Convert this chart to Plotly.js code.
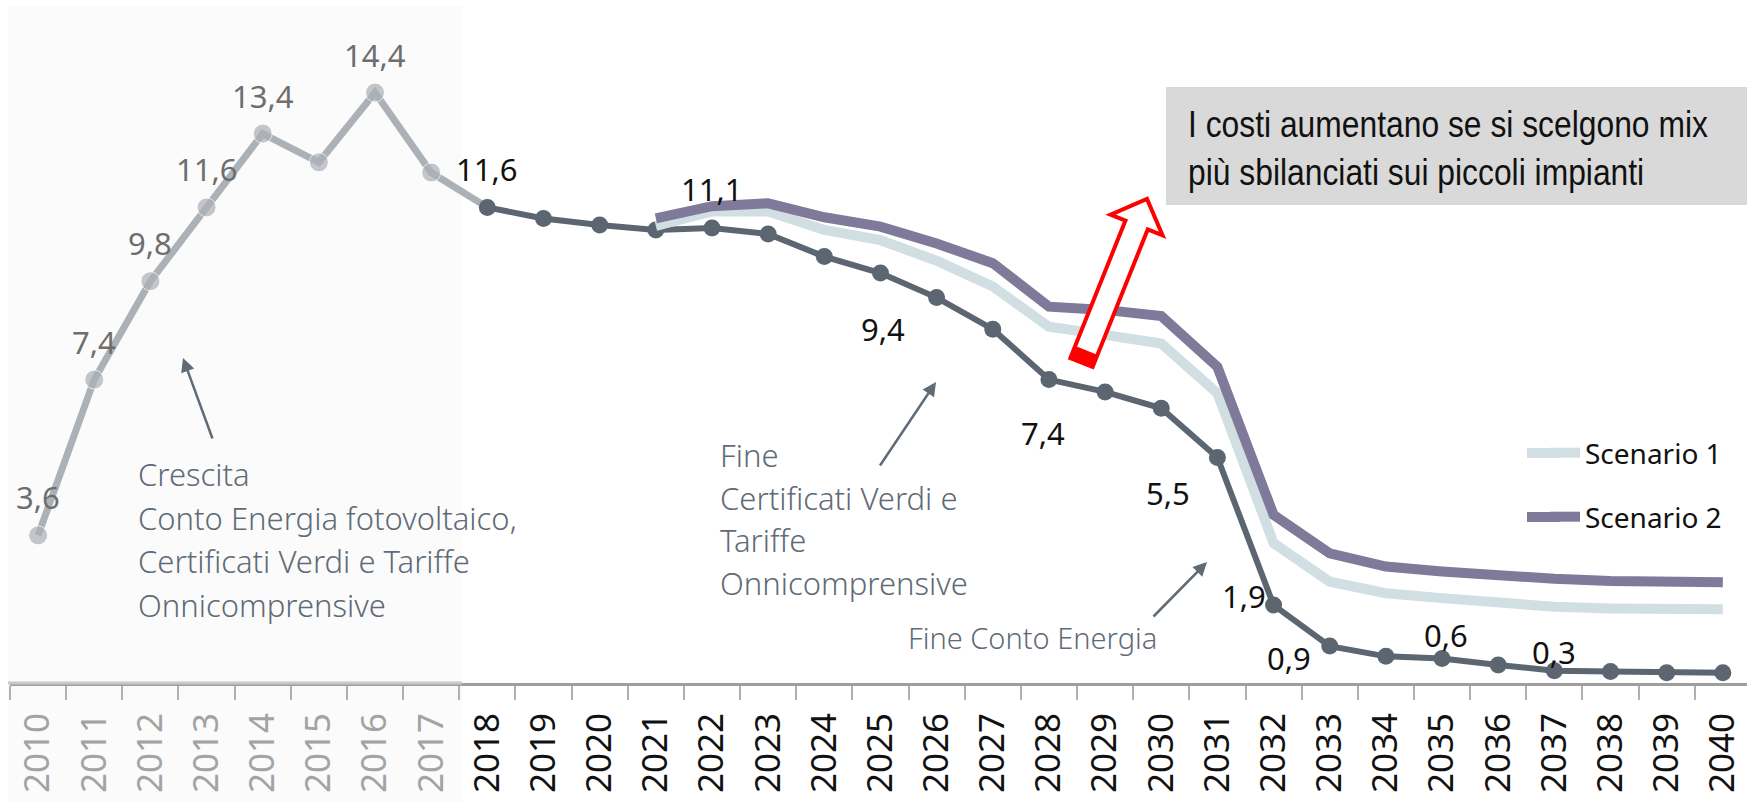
<!DOCTYPE html>
<html>
<head>
<meta charset="utf-8">
<script src="https://cdn.plot.ly/plotly-3.0.1.min.js"></script>
<style>
  html, body { margin: 0; padding: 0; background: #fff; }
  #chart { width: 1747px; height: 802px; }
</style>
</head>
<body>
<div id="chart"></div>
<script>
// anni sull'asse
const anni = ["2010", "2011", "2012", "2013", "2014", "2015", "2016", "2017", "2018", "2019",
  "2020", "2021", "2022", "2023", "2024", "2025", "2026", "2027", "2028", "2029", "2030",
  "2031", "2032", "2033", "2034", "2035", "2036", "2037", "2038", "2039", "2040"];

// storico 2010-2017
const anniStorico = anni.slice(0, 8);
const storico = [3.6, 7.4, 9.8, 11.6, 13.4, 12.7, 14.4, 12.45];

// proiezione base 2018-2040
const anniBase = anni.slice(8);
const base = [11.6, 11.33, 11.17, 11.05, 11.1, 10.95, 10.4, 10.0, 9.4, 8.63, 7.4, 7.1, 6.7,
  5.5, 1.9, 0.9, 0.65, 0.6, 0.44, 0.3, 0.28, 0.25, 0.25];

// scenari 2021-2040
const anniScenari = anni.slice(11);
const scenario1 = [11.15, 11.5, 11.5, 11.05, 10.8, 10.3, 9.67, 8.69, 8.49, 8.28, 7.07, 3.41,
  2.47, 2.19, 2.07, 1.94, 1.86, 1.82, 1.82, 1.8];
const scenario2 = [11.33, 11.63, 11.7, 11.36, 11.13, 10.72, 10.24, 9.18, 9.1, 8.95, 7.71, 4.1,
  3.16, 2.84, 2.72, 2.61, 2.54, 2.49, 2.49, 2.46];

// anni storici con etichetta
const etichetteStorico = ["2010", "2011", "2012", "2013", "2014", "2016"];

// etichette sulla serie base: anno e spostamento in pixel
const etichetteBase = [
  ["2018", 0, 38], ["2022", 0, 39], ["2026", -54, -31], ["2028", -6, -53],
  ["2031", -49, -35], ["2032", -30, 9], ["2033", -41, -12], ["2035", 4, 23], ["2037", 0, 19]
];

const colStorico = "#abb1b7";
const colBase = "#5b6671";
const colS1 = "#d1dfe3";
const colS2 = "#7f7a9a";
const colNote = "#5f6b77";

// geometria dell'area del grafico
const W = 1747, H = 802;
const M = { l: 10, r: 0, t: 5, b: 119 };
const pw = W - M.l - M.r, ph = H - M.t - M.b;
const px = (x) => (x - M.l) / pw;
const py = (y) => (H - M.b - y) / ph;

const fmt = (v) => v.toFixed(1).replace(".", ",");

const traces = [
  {
    x: anniStorico.concat([anniBase[0]]),
    y: storico.concat([base[0]]),
    type: "scatter", mode: "lines+markers",
    line: { color: colStorico, width: 7 },
    marker: { color: colStorico, size: storico.map(() => 19).concat([0]) },
    showlegend: false, hoverinfo: "skip"
  },
  {
    x: anniBase, y: base,
    type: "scatter", mode: "lines+markers",
    line: { color: colBase, width: 6 },
    marker: { color: colBase, size: 17 },
    showlegend: false
  },
  {
    name: "Scenario 1", x: anniScenari, y: scenario1,
    type: "scatter", mode: "lines",
    line: { color: colS1, width: 10 },
    legend: "legend"
  },
  {
    name: "Scenario 2", x: anniScenari, y: scenario2,
    type: "scatter", mode: "lines",
    line: { color: colS2, width: 10 },
    legend: "legend2"
  }
];

const annotations = [];

// etichette storiche (x come indice di categoria)
etichetteStorico.forEach((anno) => {
  const v = storico[anniStorico.indexOf(anno)];
  annotations.push({
    x: anni.indexOf(anno), y: v, text: fmt(v), showarrow: false, yshift: 38,
    font: { family: "Noto Sans", size: 31, color: "#6e6e6e" }
  });
});

// etichette proiezione
etichetteBase.forEach(([anno, dx, dy]) => {
  const v = base[anniBase.indexOf(anno)];
  annotations.push({
    x: anni.indexOf(anno), y: v, text: fmt(v), showarrow: false, xshift: dx, yshift: dy,
    font: { family: "Noto Sans", size: 31, color: "#111" }
  });
});

// note testuali, una riga per annotazione
function nota(righe, x, y0, passo, size) {
  righe.forEach((r, i) => {
    annotations.push({
      xref: "paper", yref: "paper", x: px(x), y: py(y0 + i * passo),
      xanchor: "left", yanchor: "middle", showarrow: false, text: r,
      font: { family: "Noto Sans", size: size, color: colNote, weight: 300 }
    });
  });
}
nota(["Crescita", "Conto Energia fotovoltaico,", "Certificati Verdi e Tariffe", "Onnicomprensive"], 136, 474, 43.6, 31);
nota(["Fine", "Certificati Verdi e", "Tariffe", "Onnicomprensive"], 718, 455, 42.5, 31);
nota(["Fine Conto Energia"], 906, 637, 0, 29);

// frecce delle note
function freccia(x, y, ax, ay) {
  annotations.push({
    xref: "paper", yref: "paper", x: px(x), y: py(y), ax: ax, ay: ay, text: "",
    showarrow: true, arrowhead: 2, arrowsize: 1.1, arrowwidth: 2.5, arrowcolor: colNote, standoff: 0
  });
}
freccia(183, 358, 30, 82);
freccia(936, 382, -57, 85);
freccia(1207, 562, -55, 56);

// riquadro di commento
annotations.push({
  xref: "paper", yref: "paper", x: px(1186), y: py(148), xanchor: "left", yanchor: "middle",
  showarrow: false, align: "left",
  text: "I costi aumentano se si scelgono mix<br>più sbilanciati sui piccoli impianti",
  font: { family: "Liberation Sans, Arial", size: 37, color: "#111" }
});

// freccia rossa vuota
const coda = [1081.5, 362.5], punta = [1147, 199];
const len = Math.hypot(punta[0] - coda[0], punta[1] - coda[1]);
const u = [(punta[0] - coda[0]) / len, (punta[1] - coda[1]) / len];
const n = [-u[1], u[0]];
const hs = 12, hh = 28, hl = 28, base2 = 12;
const pt = (d, s) => [coda[0] + u[0] * d + n[0] * s, coda[1] + u[1] * d + n[1] * s];
const poly = (pts) => "M" + pts.map((p) => px(p[0]) + "," + py(p[1])).join("L") + "Z";
const contorno = [pt(0, -hs), pt(len - hl, -hs), pt(len - hl, -hh), pt(len, 0),
  pt(len - hl, hh), pt(len - hl, hs), pt(0, hs)];
const fondo = [pt(0, -hs), pt(base2, -hs), pt(base2, hs), pt(0, hs)];

const shapes = [
  // fondo chiaro del periodo storico
  { type: "rect", xref: "paper", yref: "paper", x0: px(8), x1: px(462), y0: py(802), y1: py(6),
    fillcolor: "#fbfbfb", line: { width: 0 }, layer: "below" },
  // riquadro grigio
  { type: "rect", xref: "paper", yref: "paper", x0: px(1166), x1: 1, y0: py(205), y1: py(87),
    fillcolor: "#d9d9d9", line: { width: 0 } },
  { type: "path", xref: "paper", yref: "paper", path: poly(contorno),
    fillcolor: "#ffffff", line: { color: "#ff0000", width: 4 } },
  { type: "path", xref: "paper", yref: "paper", path: poly(fondo),
    fillcolor: "#ff0000", line: { color: "#ff0000", width: 2 } },
  // asse piu chiaro sotto lo storico
  { type: "line", xref: "paper", yref: "paper", x0: px(8), x1: px(462), y0: 0, y1: 0,
    line: { color: "#c8c8c8", width: 3 } },
  // simboli di legenda piu lunghi
  { type: "line", xref: "paper", yref: "paper", x0: px(1527), x1: px(1560), y0: py(453), y1: py(453),
    line: { color: colS1, width: 10 } },
  { type: "line", xref: "paper", yref: "paper", x0: px(1527), x1: px(1560), y0: py(517), y1: py(517),
    line: { color: colS2, width: 10 } }
];

const layout = {
  width: W, height: H,
  margin: M,
  paper_bgcolor: "#ffffff", plot_bgcolor: "rgba(0,0,0,0)",
  showlegend: true,
  xaxis: {
    type: "category", range: [-0.5, 30.43], fixedrange: true,
    showgrid: false, zeroline: false,
    showline: true, linecolor: "#9e9e9e", linewidth: 3,
    ticks: "outside", tickson: "boundaries", ticklen: 14, tickwidth: 2, tickcolor: "#b0b0b0",
    tickangle: -90, ticklabelstandoff: 13,
    tickvals: anni,
    ticktext: anni.map((a, i) => i < 8 ? '<span style="color:#a3a3a3">' + a + "</span>" : a),
    tickfont: { family: "Noto Sans", size: 35, color: "#111" }
  },
  yaxis: {
    range: [0, ph / 41], fixedrange: true,
    showgrid: false, zeroline: false, showline: false, showticklabels: false, ticks: ""
  },
  legend: {
    x: px(1545), y: py(453), xanchor: "left", yanchor: "middle",
    font: { family: "Noto Sans", size: 28, color: "#111" }, bgcolor: "rgba(0,0,0,0)"
  },
  legend2: {
    x: px(1545), y: py(517), xanchor: "left", yanchor: "middle",
    font: { family: "Noto Sans", size: 28, color: "#111" }, bgcolor: "rgba(0,0,0,0)"
  },
  annotations: annotations,
  shapes: shapes
};

Plotly.newPlot("chart", traces, layout, { displayModeBar: false, staticPlot: true }).then(() => {
  // testo del riquadro piu stretto, come un carattere condensato
  document.querySelectorAll("#chart text.annotation-text").forEach((t) => {
    if (t.textContent.indexOf("I costi") === 0) {
      const b = t.getBBox();
      t.setAttribute("transform", "translate(" + b.x + ",0) scale(0.86,1) translate(" + (-b.x) + ",0)");
    }
  });
});
</script>
</body>
</html>
